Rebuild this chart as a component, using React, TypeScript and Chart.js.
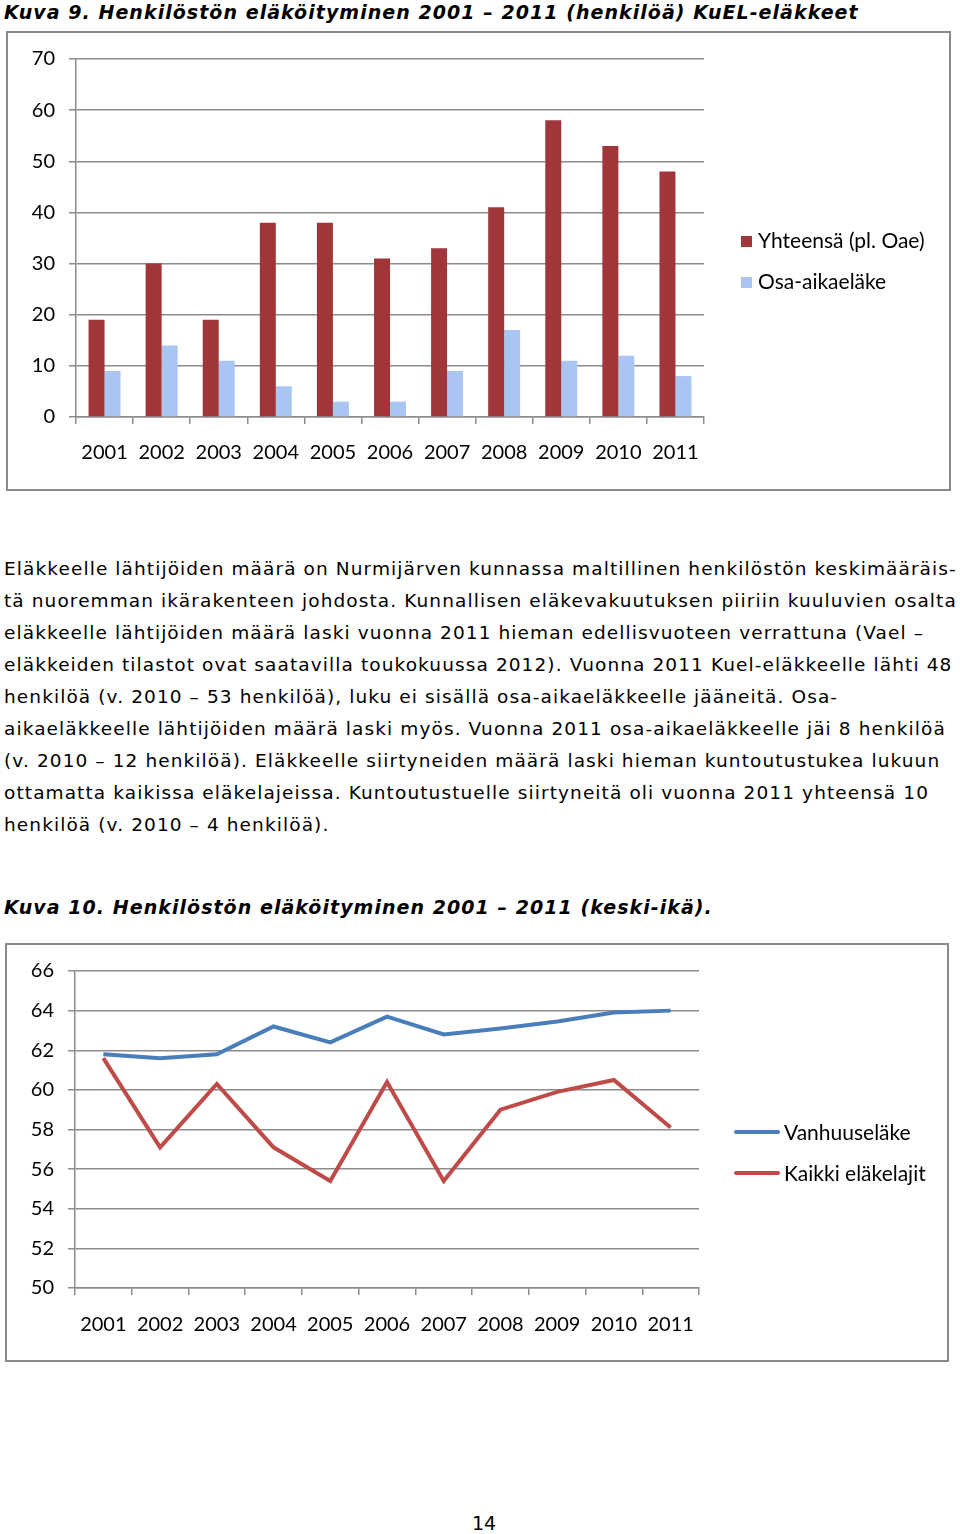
import React, { useEffect, useRef } from "react";
import { Chart, registerables } from "chart.js";
Chart.register(...registerables);

const years = ["2001", "2002", "2003", "2004", "2005", "2006", "2007", "2008", "2009", "2010", "2011"];
const yhteensa = [19, 30, 19, 38, 38, 31, 33, 41, 58, 53, 48];
const osaAika = [9, 14, 11, 6, 3, 3, 9, 17, 11, 12, 8];
const vanhuus = [61.8, 61.6, 61.8, 63.2, 62.4, 63.7, 62.8, 63.1, 63.45, 63.9, 64.0];
const kaikki = [61.6, 57.1, 60.3, 57.1, 55.4, 60.4, 55.4, 59.0, 59.9, 60.5, 58.1];

const title1 = "Kuva 9. Henkilöstön eläköityminen 2001 – 2011 (henkilöä) KuEL-eläkkeet";
const title2 = "Kuva 10. Henkilöstön eläköityminen 2001 – 2011 (keski-ikä).";
const paragraph = [
  "Eläkkeelle lähtijöiden määrä on Nurmijärven kunnassa maltillinen henkilöstön keskimääräis-",
  "tä nuoremman ikärakenteen johdosta. Kunnallisen eläkevakuutuksen piiriin kuuluvien osalta",
  "eläkkeelle lähtijöiden määrä laski vuonna 2011 hieman edellisvuoteen verrattuna (Vael –",
  "eläkkeiden tilastot ovat saatavilla toukokuussa 2012). Vuonna 2011 Kuel-eläkkeelle lähti 48",
  "henkilöä (v. 2010 – 53 henkilöä), luku ei sisällä osa-aikaeläkkeelle jääneitä. Osa-",
  "aikaeläkkeelle lähtijöiden määrä laski myös. Vuonna 2011 osa-aikaeläkkeelle jäi 8 henkilöä",
  "(v. 2010 – 12 henkilöä). Eläkkeelle siirtyneiden määrä laski hieman kuntoutustukea lukuun",
  "ottamatta kaikissa eläkelajeissa. Kuntoutustuelle siirtyneitä oli vuonna 2011 yhteensä 10",
  "henkilöä (v. 2010 – 4 henkilöä).",
];

const RED_BAR = "#A0363A";
const BLUE_BAR = "#A9C6F2";
const LINE_BLUE = "#4A7EBB";
const LINE_RED = "#BE4B48";
const GRID = "#8c8c8c";
const CHART_FONT = "Lato";
const TEXT_FONT = "'DejaVu Sans', Verdana, sans-serif";

function BarChart() {
  const ref = useRef<HTMLCanvasElement>(null);
  useEffect(() => {
    const chart = new Chart(ref.current!, {
      type: "bar",
      data: {
        labels: years,
        datasets: [
          { label: "Yhteensä (pl. Oae)", data: yhteensa, backgroundColor: RED_BAR },
          { label: "Osa-aikaeläke", data: osaAika, backgroundColor: BLUE_BAR },
        ],
      },
      options: {
        animation: false,
        responsive: false,
        events: [],
        layout: { padding: { top: 23, right: 244, bottom: 0, left: 0 } },
        plugins: { legend: { display: false }, tooltip: { enabled: false } },
        datasets: { bar: { categoryPercentage: 0.56, barPercentage: 1 } },
        scales: {
          x: {
            grid: { drawOnChartArea: false, tickLength: 7, color: GRID, lineWidth: 1.5 },
            border: { color: GRID, width: 1.5 },
            ticks: { color: "#000", font: { family: CHART_FONT, size: 20 }, padding: 17, maxRotation: 0 },
            afterFit: (s: any) => { s.height = 71; },
          },
          y: {
            min: 0,
            max: 70,
            ticks: { stepSize: 10, color: "#000", font: { family: CHART_FONT, size: 20 }, padding: 14 },
            grid: { tickLength: 7, color: GRID, lineWidth: 1.5 },
            border: { color: GRID, width: 1.5 },
            afterFit: (s: any) => { s.width = 68; },
          },
        },
      },
    });
    return () => chart.destroy();
  }, []);
  return <canvas ref={ref} width={940} height={455} style={{ display: "block" }} />;
}

function LineChart() {
  const ref = useRef<HTMLCanvasElement>(null);
  useEffect(() => {
    const chart = new Chart(ref.current!, {
      type: "line",
      data: {
        labels: years,
        datasets: [
          { label: "Vanhuuseläke", data: vanhuus, borderColor: LINE_BLUE, borderWidth: 4, pointRadius: 0, tension: 0 },
          { label: "Kaikki eläkelajit", data: kaikki, borderColor: LINE_RED, borderWidth: 4, pointRadius: 0, tension: 0 },
        ],
      },
      options: {
        animation: false,
        responsive: false,
        events: [],
        layout: { padding: { top: 24, right: 248, bottom: 0, left: 0 } },
        plugins: { legend: { display: false }, tooltip: { enabled: false } },
        scales: {
          x: {
            offset: true,
            grid: { offset: true, drawOnChartArea: false, tickLength: 7, color: GRID, lineWidth: 1.5 },
            border: { color: GRID, width: 1.5 },
            ticks: { color: "#000", font: { family: CHART_FONT, size: 20 }, padding: 18, maxRotation: 0 },
            afterFit: (s: any) => { s.height = 72; },
          },
          y: {
            min: 50,
            max: 66,
            ticks: { stepSize: 2, color: "#000", font: { family: CHART_FONT, size: 20 }, padding: 14 },
            grid: { tickLength: 7, color: GRID, lineWidth: 1.5 },
            border: { color: GRID, width: 1.5 },
            afterFit: (s: any) => { s.width = 68; },
          },
        },
      },
    });
    return () => chart.destroy();
  }, []);
  return <canvas ref={ref} width={940} height={415} style={{ display: "block" }} />;
}

const legendText: React.CSSProperties = {
  position: "absolute",
  fontFamily: CHART_FONT,
  fontSize: 21,
  color: "#000",
  whiteSpace: "nowrap",
  lineHeight: "24px",
};

const titleStyle: React.CSSProperties = {
  position: "absolute",
  left: 4,
  fontFamily: TEXT_FONT,
  fontWeight: "bold",
  fontStyle: "italic",
  fontSize: 19,
  lineHeight: "24px",
  letterSpacing: "1.05px",
  whiteSpace: "nowrap",
};

export default function App() {
  return (
    <div style={{ position: "absolute", left: 0, top: 0, width: 960, height: 1534, background: "#fff", overflow: "hidden" }}>
      <div style={{ ...titleStyle, top: 0 }}>{title1}</div>

      <div style={{ position: "absolute", left: 6, top: 31, width: 941, height: 456, border: "2px solid #8a8a8a" }}>
        <BarChart />
        <div style={{ position: "absolute", left: 733, top: 203, width: 11, height: 11, background: RED_BAR }} />
        <div style={{ ...legendText, left: 750, top: 195 }}>Yhteensä (pl. Oae)</div>
        <div style={{ position: "absolute", left: 733, top: 244, width: 11, height: 11, background: BLUE_BAR }} />
        <div style={{ ...legendText, left: 750, top: 236 }}>Osa-aikaeläke</div>
      </div>

      <div style={{ position: "absolute", left: 4, top: 553, fontFamily: TEXT_FONT, fontSize: 18.5, lineHeight: "32px", letterSpacing: "1.1px", whiteSpace: "nowrap" }}>
        {paragraph.map((l, i) => (
          <div key={i}>{l}</div>
        ))}
      </div>

      <div style={{ ...titleStyle, top: 895 }}>{title2}</div>

      <div style={{ position: "absolute", left: 5, top: 943, width: 940, height: 415, border: "2px solid #8a8a8a" }}>
        <LineChart />
        <div style={{ position: "absolute", left: 727, top: 185, width: 46, height: 4, background: LINE_BLUE, borderRadius: 2 }} />
        <div style={{ ...legendText, left: 777, top: 175 }}>Vanhuuseläke</div>
        <div style={{ position: "absolute", left: 727, top: 226, width: 46, height: 4, background: LINE_RED, borderRadius: 2 }} />
        <div style={{ ...legendText, left: 777, top: 216 }}>Kaikki eläkelajit</div>
      </div>

      <div style={{ position: "absolute", left: 472, top: 1511, fontFamily: TEXT_FONT, fontSize: 19, lineHeight: "24px" }}>14</div>
    </div>
  );
}
